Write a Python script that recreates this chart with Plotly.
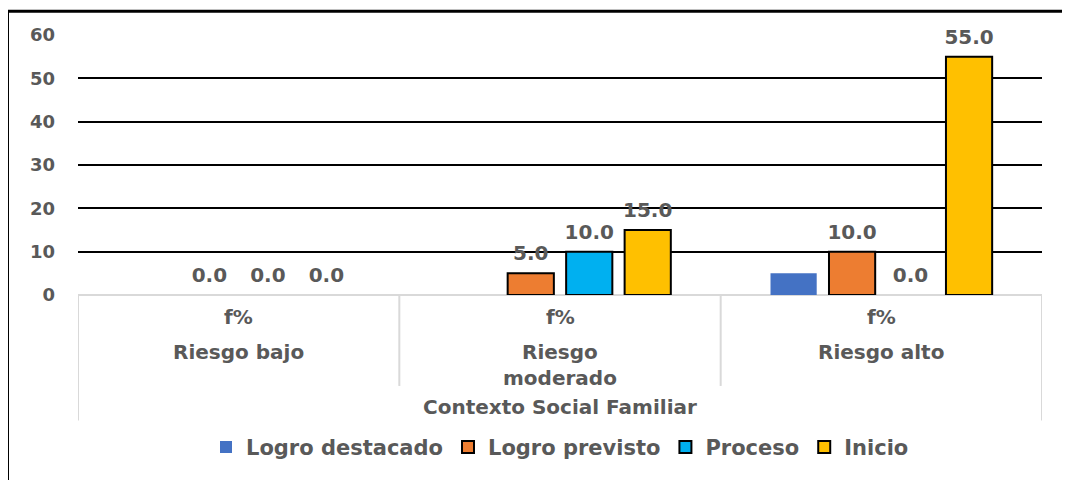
import plotly.graph_objects as go

categories = ["Riesgo bajo", "Riesgo moderado", "Riesgo alto"]
category_labels = ["Riesgo bajo", "Riesgo<br>moderado", "Riesgo alto"]
sub_label = "f%"
axis_group_label = "Contexto Social Familiar"

series_names = ["Logro destacado", "Logro previsto", "Proceso", "Inicio"]
logro_destacado = [0, 0, 5]
logro_previsto = [0, 5, 10]
proceso = [0, 10, 0]
inicio = [0, 15, 55]
series_values = [logro_destacado, logro_previsto, proceso, inicio]
series_colors = ["#4472C4", "#ED7D31", "#00B0F0", "#FFC000"]
show_labels = [False, True, True, True]
outlined = [False, True, True, True]

y_ticks = [0, 10, 20, 30, 40, 50, 60]

FONT = "DejaVu Sans"
GREY_TXT = "#595959"
BARGAP = 0.272

fig = go.Figure()
for name, vals, col, outl in zip(series_names, series_values, series_colors, outlined):
    fig.add_trace(go.Bar(
        name=name, x=categories, y=[v if v != 0 else None for v in vals],
        offsetgroup=name,
        marker=dict(color=col, line=dict(color="black", width=2 if outl else 0)),
    ))
for name, vals, lab in zip(series_names, series_values, show_labels):
    fig.add_trace(go.Scatter(
        x=categories, y=vals, offsetgroup=name,
        mode="markers+text",
        marker=dict(size=11, opacity=0),
        text=[f"{v:.1f}" for v in vals] if lab else None,
        textposition="top center",
        textfont=dict(family=FONT, size=20, color=GREY_TXT, weight="bold"),
        showlegend=False, hoverinfo="skip", cliponaxis=False,
    ))

# page offset (browser body margin) compensation
OFF = 8
W, H = 1070 - OFF, 480 - OFF
L, R, T, B = 78 - OFF, 28, 35 - OFF, 182
pw, ph = W - L - R, H - T - B

def py(pix):
    return (H - B - (pix - OFF)) / ph

def px(pix):
    return ((pix - OFF) - L) / pw

annotations = []
for cat, lab in zip(categories, category_labels):
    annotations.append(dict(x=cat, xref="x", y=py(320), yref="paper", text="<b>" + sub_label + "</b>",
                            showarrow=False, yanchor="middle",
                            font=dict(family=FONT, size=20, color=GREY_TXT)))
    annotations.append(dict(x=cat, xref="x", y=py(342), yref="paper", text="<b>" + lab + "</b>",
                            showarrow=False, yanchor="top",
                            font=dict(family=FONT, size=20, color=GREY_TXT)))
annotations.append(dict(x=0.5, xref="paper", y=py(411), yref="paper", text="<b>" + axis_group_label + "</b>",
                        showarrow=False, yanchor="middle",
                        font=dict(family=FONT, size=20, color=GREY_TXT)))

shapes = []
n = len(categories)
for i in range(n + 1):
    xb = i - 0.5
    bottom = py(425) if i in (0, n) else py(390)
    shapes.append(dict(type="line", xref="x", yref="paper", x0=xb, x1=xb, y0=0, y1=bottom,
                       line=dict(color="#D9D9D9", width=2)))
# outer frame (left and top edges visible)
shapes.append(dict(type="line", xref="paper", yref="paper", x0=px(7.5), x1=px(1080), y0=py(11), y1=py(11),
                   line=dict(color="black", width=3)))
shapes.append(dict(type="line", xref="paper", yref="paper", x0=px(7.5), x1=px(7.5), y0=py(11), y1=py(490),
                   line=dict(color="black", width=3)))

fig.update_layout(
    width=W, height=H,
    margin=dict(l=L, r=R, t=T, b=B),
    paper_bgcolor="white", plot_bgcolor="white",
    barmode="group", bargap=BARGAP, bargroupgap=0.21,
    scattermode="group", scattergap=BARGAP,
    showlegend=True,
    legend=dict(orientation="h", x=0.5, xanchor="center", y=py(452), yanchor="middle",
                font=dict(family=FONT, size=21, color=GREY_TXT, weight="bold"),
                itemwidth=30, tracegroupgap=0),
    annotations=annotations,
    shapes=shapes,
    font=dict(family=FONT),
)
fig.update_xaxes(type="category", range=[-0.5, n - 0.5], showticklabels=False, showgrid=False,
                 zeroline=False, showline=False, ticks="")
fig.update_yaxes(range=[0, 60], tickvals=y_ticks, showgrid=True, gridcolor="black", gridwidth=2,
                 zeroline=True, zerolinecolor="#D9D9D9", zerolinewidth=2, showline=False,
                 ticks="", ticklabelstandoff=22,
                 tickfont=dict(family=FONT, size=18, color=GREY_TXT, weight="bold"))

fig.write_html("out.html")
